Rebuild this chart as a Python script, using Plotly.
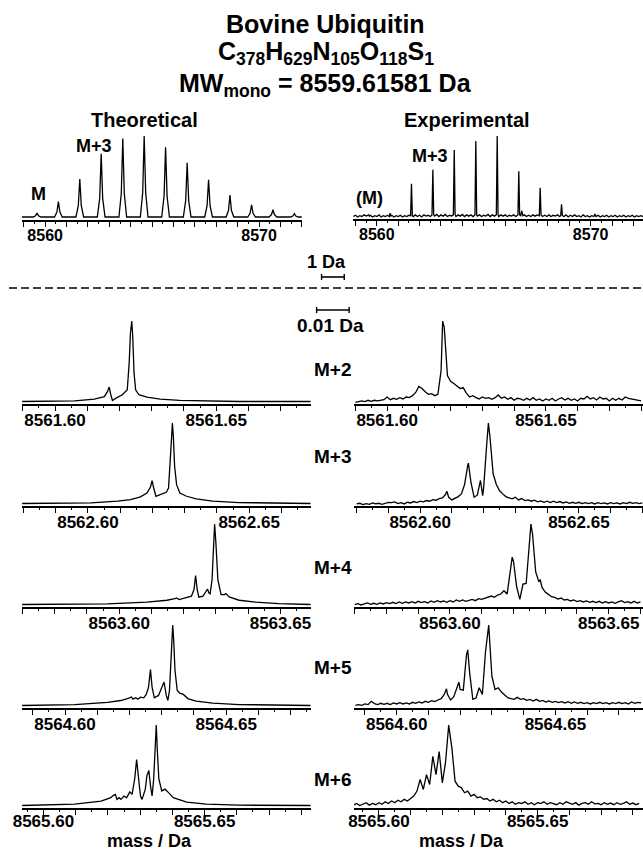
import plotly.graph_objects as go

W, H = 643, 851
FONT = "Liberation Sans, Arial, Helvetica, sans-serif"

# ---------------- data: top (full isotope envelope) ----------------
theo_top_mass = [8558.90,
    8559.44, 8559.55, 8559.62, 8559.69, 8559.80,
    8560.44, 8560.55, 8560.62, 8560.69, 8560.80,
    8561.44, 8561.55, 8561.62, 8561.69, 8561.80,
    8562.44, 8562.55, 8562.62, 8562.69, 8562.80,
    8563.45, 8563.56, 8563.63, 8563.70, 8563.81,
    8564.45, 8564.56, 8564.63, 8564.70, 8564.81,
    8565.45, 8565.56, 8565.63, 8565.70, 8565.81,
    8566.46, 8566.57, 8566.64, 8566.71, 8566.82,
    8567.46, 8567.57, 8567.64, 8567.71, 8567.82,
    8568.46, 8568.57, 8568.64, 8568.71, 8568.82,
    8569.47, 8569.58, 8569.65, 8569.72, 8569.83,
    8570.47, 8570.58, 8570.65, 8570.72, 8570.83,
    8571.47, 8571.58, 8571.65, 8571.72, 8571.83,
    8572.00]
theo_top_int = [0,
    0, 1.5, 5, 1.5, 0,
    0, 6, 19, 6, 0,
    0, 14, 47, 14, 0,
    0, 23, 78, 23, 0,
    0, 29, 97, 29, 0,
    0, 30, 100, 30, 0,
    0, 26, 86, 26, 0,
    0, 20, 67, 20, 0,
    0, 14, 46, 14, 0,
    0, 8, 27, 8, 0,
    0, 4.5, 15, 4.5, 0,
    0, 3, 9, 3, 0,
    0, 1.2, 4, 1.2, 0,
    0]

exp_top_mass = [
    8558.9, 8559.0, 8559.1, 8559.2, 8559.3, 8559.4, 8559.5, 8559.58, 8559.62, 8559.66, 8559.7, 8559.8,
    8559.9, 8560.0, 8560.1, 8560.2, 8560.3, 8560.4, 8560.5, 8560.58, 8560.62, 8560.66, 8560.7, 8560.8,
    8560.9, 8561.0, 8561.1, 8561.2, 8561.3, 8561.4, 8561.5, 8561.58, 8561.62, 8561.66, 8561.7, 8561.8,
    8561.9, 8562.0, 8562.1, 8562.2, 8562.3, 8562.4, 8562.5, 8562.58, 8562.62, 8562.66, 8562.7, 8562.8,
    8562.9, 8563.0, 8563.1, 8563.2, 8563.3, 8563.4, 8563.5, 8563.58, 8563.62, 8563.66, 8563.7, 8563.8,
    8563.9, 8564.0, 8564.1, 8564.2, 8564.3, 8564.4, 8564.5, 8564.59, 8564.63, 8564.67, 8564.7, 8564.8,
    8564.9, 8565.0, 8565.1, 8565.2, 8565.3, 8565.4, 8565.5, 8565.59, 8565.63, 8565.67, 8565.7, 8565.8,
    8565.9, 8566.0, 8566.1, 8566.2, 8566.3, 8566.4, 8566.5, 8566.6, 8566.64, 8566.68, 8566.73, 8566.78, 8566.83,
    8566.9, 8567.0, 8567.1, 8567.2, 8567.3, 8567.4, 8567.5, 8567.6, 8567.64, 8567.68, 8567.75, 8567.85,
    8567.95, 8568.05, 8568.15, 8568.25, 8568.35, 8568.45, 8568.55, 8568.6, 8568.64, 8568.68, 8568.75, 8568.85,
    8568.95, 8569.05, 8569.15, 8569.25, 8569.35, 8569.45, 8569.55, 8569.65, 8569.75, 8569.85,
    8569.95, 8570.05, 8570.15, 8570.2, 8570.25, 8570.35, 8570.45, 8570.55, 8570.65, 8570.75, 8570.85,
    8570.95, 8571.05, 8571.15, 8571.25, 8571.35, 8571.45, 8571.55, 8571.65, 8571.75, 8571.85,
    8571.95, 8572.05, 8572.15, 8572.25, 8572.35, 8572.45]
exp_top_int = [
    2, 3.5, 1.5, 3, 2, 4, 2.5, 3, 4, 2.5, 3.5, 1.5,
    3, 2, 4, 1.5, 3, 2, 3.5, 2, 6, 2.5, 3.5, 1.5,
    3, 2, 3.5, 1.5, 3, 2, 3.5, 3, 42, 3, 2, 4,
    2, 3.5, 1.5, 4, 2.5, 3.5, 2, 4, 59, 4, 2.5, 4.5,
    2, 4, 2.5, 4.5, 2, 3.5, 2.5, 4, 83, 4.5, 2, 4,
    2.5, 4.5, 2, 4, 2.5, 4, 2, 4, 94, 4, 2.5, 4,
    2, 3.5, 2.5, 4.5, 2, 4, 2.5, 4, 100, 5, 2, 4,
    2.5, 4, 2, 3.5, 2.5, 4, 2, 4, 57, 4, 3, 9, 3,
    4, 2, 3.5, 2, 4, 2.5, 4, 3, 37, 4, 2, 3.5,
    2, 4, 2, 3.5, 2.5, 4, 2, 3, 17, 3, 2, 4,
    1.5, 3.5, 2, 4, 2, 3, 1.5, 4, 2, 3,
    1.5, 3, 2, 5, 2, 3.5, 1.5, 3, 2, 3.5, 1.5,
    3, 2, 3.5, 1.5, 3, 2, 3.5, 1.5, 3, 2,
    3.5, 1.5, 3, 2, 3, 2]

top_tickvals = [8559, 8560, 8561, 8562, 8563, 8564, 8565, 8566, 8567, 8568, 8569, 8570, 8571, 8572]
top_ticktext = ["", "8560", "", "", "", "", "", "", "", "", "", "8570", "", ""]

# ---------------- data: theoretical fine structure ----------------
theo_m2_mass = [8561.5898, 8561.6061, 8561.6122, 8561.6153, 8561.6163, 8561.6168, 8561.6173, 8561.6178,
    8561.6189, 8561.6209, 8561.6224, 8561.6230, 8561.6234, 8561.6238, 8561.6241, 8561.6245, 8561.6250,
    8561.6260, 8561.6285, 8561.6326, 8561.6387, 8561.6469, 8561.6571, 8561.6793]
theo_m2_int = [0, 0.9, 3, 6, 12.5, 18, 8.4, 1.3, 4.2, 8.4, 14.6, 48, 85.5, 100, 81, 35.5, 14.6, 8.4,
    5.4, 3, 1.3, 0.4, 0, 0]

theo_m3_mass = [8562.5796, 8562.6010, 8562.6092, 8562.6132, 8562.6163, 8562.6183, 8562.6194, 8562.6199,
    8562.6204, 8562.6211, 8562.6224, 8562.6243, 8562.6250, 8562.6255, 8562.6259, 8562.6262, 8562.6265,
    8562.6269, 8562.6275, 8562.6285, 8562.6306, 8562.6336, 8562.6387, 8562.6469, 8562.6571, 8562.6691]
theo_m3_int = [0, 0.8, 2.9, 4.9, 8.2, 13.1, 20.5, 28.3, 19.3, 9, 11.1, 13.9, 19.3, 45.9, 78.7, 100,
    82.8, 45.9, 23.4, 13.1, 9, 5.7, 2.9, 1.2, 0.4, 0]

theo_m4_mass = [8563.5699, 8563.5964, 8563.6086, 8563.6148, 8563.6173, 8563.6178, 8563.6186, 8563.6209,
    8563.6224, 8563.6232, 8563.6237, 8563.6242, 8563.6247, 8563.6260, 8563.6270, 8563.6274, 8563.6278,
    8563.6282, 8563.6288, 8563.6292, 8563.6296, 8563.6300, 8563.6306, 8563.6316, 8563.6326, 8563.6331,
    8563.6341, 8563.6372, 8563.6423, 8563.6494, 8563.6594]
theo_m4_int = [0, 0.8, 2.9, 5.3, 7.4, 8.2, 6.2, 8.2, 10.3, 18.5, 35.8, 18.5, 9.1, 10.3, 16.5, 19.3,
    14.4, 13.2, 30.9, 67.9, 100, 76.1, 30.9, 12.3, 12.3, 13.6, 9.5, 5.3, 2.9, 1.2, 0]

theo_m5_mass = [8564.5867, 8564.6030, 8564.6132, 8564.6173, 8564.6198, 8564.6206, 8564.6211, 8564.6219,
    8564.6226, 8564.6234, 8564.6244, 8564.6252, 8564.6259, 8564.6265, 8564.6270, 8564.6277, 8564.6290,
    8564.6301, 8564.6307, 8564.6314, 8564.6319, 8564.6324, 8564.6328, 8564.6332, 8564.6334, 8564.6337,
    8564.6341, 8564.6348, 8564.6356, 8564.6367, 8564.6382, 8564.6407, 8564.6458, 8564.6540, 8564.6762]
theo_m5_int = [0, 1.2, 3.8, 6.2, 9.2, 10.4, 7.9, 9.6, 7.9, 10.4, 9.6, 13.8, 22.9, 44.6, 22.9, 9.6,
    12.5, 22.9, 29.2, 12.5, 6.2, 18.8, 56.2, 85.4, 100, 81.2, 43.8, 18.8, 15.4, 13.8, 8.3, 5.4, 2.9,
    1.2, 0]

theo_m6_mass = [8565.5934, 8565.6097, 8565.6179, 8565.6209, 8565.6217, 8565.6223, 8565.6228, 8565.6235,
    8565.6240, 8565.6250, 8565.6258, 8565.6268, 8565.6275, 8565.6283, 8565.6289, 8565.6295, 8565.6301,
    8565.6306, 8565.6316, 8565.6321, 8565.6327, 8565.6332, 8565.6337, 8565.6342, 8565.6347, 8565.6350,
    8565.6353, 8565.6358, 8565.6367, 8565.6377, 8565.6388, 8565.6403, 8565.6444, 8565.6505, 8565.6607,
    8565.6829]
theo_m6_int = [0, 1.7, 5.5, 9.7, 12.7, 13.9, 7.6, 9.7, 7.6, 11.8, 9.7, 16.9, 13.9, 32.9, 57, 32.9,
    11.8, 7.6, 20.3, 37.1, 43.5, 24.5, 11.8, 32.9, 70.9, 100, 70.9, 32.9, 18.1, 20.3, 16, 9.7, 4.2,
    1.7, 0.4, 0]

# ---------------- data: experimental fine structure ----------------
exp_m2_mass = [8561.590, 8561.591, 8561.592, 8561.593, 8561.594, 8561.595, 8561.596, 8561.597, 8561.598, 8561.599,
    8561.600, 8561.601, 8561.602, 8561.603, 8561.604, 8561.605, 8561.606, 8561.607, 8561.608, 8561.609,
    8561.610, 8561.611, 8561.612, 8561.613, 8561.614, 8561.615, 8561.616, 8561.617, 8561.6175, 8561.618, 8561.619,
    8561.620, 8561.621, 8561.622, 8561.623, 8561.624, 8561.625, 8561.626, 8561.627, 8561.628, 8561.629,
    8561.630, 8561.631, 8561.632, 8561.633, 8561.634, 8561.635, 8561.636, 8561.637, 8561.638, 8561.639,
    8561.640, 8561.641, 8561.642, 8561.643, 8561.644, 8561.645, 8561.646, 8561.647, 8561.648, 8561.649,
    8561.650, 8561.651, 8561.652, 8561.653, 8561.654, 8561.655, 8561.656, 8561.657, 8561.658, 8561.659,
    8561.660, 8561.661, 8561.662, 8561.663, 8561.664, 8561.665, 8561.666, 8561.667, 8561.668, 8561.669,
    8561.670, 8561.671, 8561.672, 8561.673, 8561.674, 8561.675, 8561.676, 8561.677, 8561.678, 8561.679,
    8561.680]
exp_m2_int = [1.6, 2.4, 3.2, 2.4, 4.0, 2.8, 4.0, 3.2, 4.0, 4.8,
    8.0, 4.8, 6.4, 5.2, 7.2, 5.6, 8.0, 7.2, 9.6, 13.5,
    20.7, 18.3, 14.3, 11.2, 12.0, 9.6, 11.2, 40, 100, 92, 34,
    27, 24.3, 21.5, 18.3, 19.1, 12.4, 8.0, 9.6, 7.2, 5.6,
    8.0, 6.4, 7.2, 5.2, 7.2, 10.4, 6.4, 8.0, 5.2, 7.2,
    4.0, 6.4, 5.6, 4.0, 6.4, 4.4, 7.2, 4.0, 5.6, 3.2,
    5.6, 4.0, 6.4, 3.2, 5.6, 7.2, 4.4, 6.4, 4.0, 5.6,
    3.2, 6.4, 5.6, 8.8, 5.6, 7.2, 4.4, 8.0, 5.6, 6.4,
    3.2, 6.4, 4.0, 6.4, 4.4, 8.0, 6.4, 5.6, 4.8, 4.8,
    3.2]

exp_m3_mass = [8562.580, 8562.581, 8562.582, 8562.583, 8562.584, 8562.585, 8562.586, 8562.587, 8562.588, 8562.589,
    8562.590, 8562.591, 8562.592, 8562.593, 8562.594, 8562.595, 8562.596, 8562.597, 8562.598, 8562.599,
    8562.600, 8562.601, 8562.602, 8562.603, 8562.604, 8562.605, 8562.606, 8562.607, 8562.608, 8562.6084,
    8562.609, 8562.610, 8562.611, 8562.612, 8562.613, 8562.614, 8562.615, 8562.6152,
    8562.616, 8562.617, 8562.618, 8562.619, 8562.6197, 8562.620, 8562.621, 8562.6215,
    8562.622, 8562.623, 8562.624, 8562.625, 8562.626, 8562.627, 8562.628, 8562.629,
    8562.630, 8562.631, 8562.632, 8562.633, 8562.634, 8562.635, 8562.636, 8562.637, 8562.638, 8562.639,
    8562.640, 8562.641, 8562.642, 8562.643, 8562.644, 8562.645, 8562.646, 8562.647, 8562.648, 8562.649,
    8562.650, 8562.651, 8562.652, 8562.653, 8562.654, 8562.655, 8562.656, 8562.657, 8562.658, 8562.659,
    8562.660, 8562.661, 8562.662, 8562.663, 8562.664, 8562.665, 8562.666, 8562.667, 8562.668, 8562.669,
    8562.670]
exp_m3_int = [2.0, 2.8, 1.2, 2.4, 1.6, 3.2, 2.0, 2.8, 1.6, 2.4,
    4.0, 3.6, 4.5, 2.4, 3.6, 2.0, 4.0, 3.2, 4.9, 3.6,
    5.3, 4.5, 6.1, 5.3, 7.3, 6.5, 8.5, 9.3, 13.4, 17.4,
    10.1, 6.9, 8.5, 10.9, 14.2, 25.5, 48.6, 51.4,
    28.3, 10.1, 12.6, 30.4, 12.1, 21.5, 75.7, 100,
    83, 38.5, 25.5, 18.2, 14.2, 10.9, 9.3, 8.1,
    10.1, 6.9, 8.5, 6.1, 6.9, 5.3, 6.5, 4.5, 5.7, 4.0,
    5.3, 3.6, 5.3, 3.6, 4.9, 3.2, 4.5, 2.8, 4.0, 2.8,
    4.0, 2.4, 3.6, 2.4, 3.6, 2.0, 3.6, 2.4, 3.2, 2.0,
    3.6, 2.4, 3.2, 2.0, 3.6, 2.4, 4.0, 2.8, 3.6, 2.4,
    3.2]

exp_m4_mass = [8563.570, 8563.571, 8563.572, 8563.573, 8563.574, 8563.575, 8563.576, 8563.577, 8563.578, 8563.579,
    8563.580, 8563.581, 8563.582, 8563.583, 8563.584, 8563.585, 8563.586, 8563.587, 8563.588, 8563.589,
    8563.590, 8563.591, 8563.592, 8563.593, 8563.594, 8563.595, 8563.596, 8563.597, 8563.598, 8563.599,
    8563.600, 8563.601, 8563.602, 8563.603, 8563.604, 8563.605, 8563.606, 8563.607, 8563.608, 8563.609,
    8563.610, 8563.611, 8563.612, 8563.613, 8563.614, 8563.615, 8563.616, 8563.617, 8563.618, 8563.619,
    8563.6196, 8563.620, 8563.621, 8563.622, 8563.623, 8563.624, 8563.625, 8563.6255,
    8563.626, 8563.627, 8563.628, 8563.6284, 8563.629,
    8563.630, 8563.631, 8563.632, 8563.633, 8563.634, 8563.635, 8563.636, 8563.637, 8563.638, 8563.639,
    8563.640, 8563.641, 8563.642, 8563.643, 8563.644, 8563.645, 8563.646, 8563.647, 8563.648, 8563.649,
    8563.650, 8563.651, 8563.652, 8563.653, 8563.654, 8563.655, 8563.656, 8563.657, 8563.658, 8563.659,
    8563.660]
exp_m4_int = [2.4, 3.6, 2.0, 3.2, 4.4, 2.8, 4.0, 2.8, 4.4, 3.2,
    4.8, 3.6, 5.2, 3.6, 5.6, 4.0, 5.6, 4.4, 6.0, 4.4,
    6.4, 4.8, 6.0, 4.4, 6.8, 5.2, 7.2, 5.6, 6.8, 5.2,
    7.2, 5.6, 8.0, 6.4, 8.0, 6.4, 7.6, 8.8, 7.2, 9.6,
    8.8, 10.4, 12.0, 12.8, 11.2, 14.0, 15.2, 19.2, 15.2, 46,
    60, 55.2, 24, 8.8, 27.2, 28, 76, 100,
    88, 42, 30, 32.8, 23.2,
    17.6, 14.8, 12.0, 11.2, 9.2, 10.4, 8.0, 8.8, 6.8, 8.0,
    6.0, 7.2, 5.6, 6.8, 5.2, 6.4, 4.8, 6.4, 4.4, 6.0,
    4.4, 5.6, 4.0, 5.6, 7.2, 4.8, 6.0, 4.4, 6.4, 4.4,
    5.6]

exp_m5_mass = [8564.587, 8564.588, 8564.589, 8564.590, 8564.591, 8564.592, 8564.593, 8564.594, 8564.595, 8564.596,
    8564.597, 8564.598, 8564.599, 8564.600, 8564.601, 8564.602, 8564.603, 8564.604, 8564.605, 8564.606,
    8564.607, 8564.608, 8564.609, 8564.610, 8564.611, 8564.612, 8564.613, 8564.614, 8564.615, 8564.6157,
    8564.616, 8564.617, 8564.618, 8564.619, 8564.6196, 8564.620, 8564.621, 8564.622, 8564.6224,
    8564.623, 8564.624, 8564.625, 8564.626, 8564.627, 8564.628, 8564.629,
    8564.630, 8564.631, 8564.632, 8564.633, 8564.634, 8564.635, 8564.636, 8564.637, 8564.638, 8564.639,
    8564.640, 8564.641, 8564.642, 8564.643, 8564.644, 8564.645, 8564.646, 8564.647, 8564.648, 8564.649,
    8564.650, 8564.651, 8564.652, 8564.653, 8564.654, 8564.655, 8564.656, 8564.657, 8564.658, 8564.659,
    8564.660, 8564.661, 8564.662, 8564.663, 8564.664, 8564.665, 8564.666, 8564.667, 8564.668, 8564.669,
    8564.670, 8564.671, 8564.672, 8564.673, 8564.674, 8564.675, 8564.676, 8564.677]
exp_m5_int = [2.8, 3.6, 2.8, 4.4, 3.6, 7.6, 4.8, 3.6, 5.2, 4.0,
    5.2, 3.6, 5.6, 4.4, 6.0, 4.4, 5.6, 4.4, 6.4, 5.2,
    6.8, 5.6, 7.6, 6.4, 8.4, 7.2, 9.2, 10.8, 16, 22.8,
    16, 9.2, 13.2, 24, 30.8, 22, 21.2, 64, 70,
    42, 10, 11.6, 24, 16, 68, 100,
    38, 22, 24, 18.8, 14.8, 12.0, 10.8, 10.0, 12.4, 10.0,
    10.8, 8.8, 10.0, 8.0, 10.0, 7.6, 8.8, 6.8, 8.0, 6.4,
    7.6, 6.0, 7.2, 5.6, 7.2, 5.2, 6.8, 5.2, 6.4, 4.8,
    6.0, 4.4, 6.0, 4.8, 6.4, 4.8, 6.0, 4.4, 6.0, 4.8,
    6.4, 4.8, 6.0, 4.4, 6.8, 5.2, 6.4, 5.6]

exp_m6_mass = [8565.592, 8565.593, 8565.594, 8565.595, 8565.596, 8565.597, 8565.598, 8565.599, 8565.600, 8565.601,
    8565.602, 8565.603, 8565.604, 8565.605, 8565.606, 8565.607, 8565.608, 8565.609, 8565.610, 8565.611,
    8565.612, 8565.613, 8565.614, 8565.615, 8565.616, 8565.617, 8565.618, 8565.619, 8565.620, 8565.621,
    8565.622, 8565.623, 8565.624, 8565.625, 8565.626, 8565.627, 8565.628, 8565.629, 8565.630, 8565.631,
    8565.632, 8565.633, 8565.634, 8565.635, 8565.636, 8565.637, 8565.638, 8565.639, 8565.640, 8565.641,
    8565.642, 8565.643, 8565.644, 8565.645, 8565.646, 8565.647, 8565.648, 8565.649, 8565.650, 8565.651,
    8565.652, 8565.653, 8565.654, 8565.655, 8565.656, 8565.657, 8565.658, 8565.659, 8565.660, 8565.661,
    8565.662, 8565.663, 8565.664, 8565.665, 8565.666, 8565.667, 8565.668, 8565.669, 8565.670, 8565.671,
    8565.672, 8565.673, 8565.674, 8565.675, 8565.676, 8565.677, 8565.678, 8565.679, 8565.680, 8565.681,
    8565.682]
exp_m6_int = [3, 5, 2.5, 4, 6, 3, 5, 3.5, 6, 4,
    7, 5, 8, 6, 9, 7, 10, 8, 11, 14,
    20, 34, 22, 40, 28, 62, 40, 68, 30, 55,
    100, 72, 32, 26, 24, 18, 20, 14, 16, 12,
    13, 10, 11, 8, 10, 7, 9, 6, 8, 5,
    7, 4, 6, 5, 7, 4, 6, 3.5, 6, 5,
    7, 4, 6, 5, 3.5, 6, 4, 7, 5, 4,
    6, 3, 5, 6, 4, 7, 4.5, 5, 3.5, 6,
    4, 5.5, 3.5, 6, 4, 5, 7, 4, 5.5, 3.5,
    5]

# tick positions / labels for the fine-structure rows
row_tickvals = [
    [8561.59, 8561.60, 8561.61, 8561.62, 8561.63, 8561.64, 8561.65, 8561.66, 8561.67, 8561.68],
    [8562.58, 8562.59, 8562.60, 8562.61, 8562.62, 8562.63, 8562.64, 8562.65, 8562.66, 8562.67],
    [8563.57, 8563.58, 8563.59, 8563.60, 8563.61, 8563.62, 8563.63, 8563.64, 8563.65, 8563.66],
    [8564.59, 8564.60, 8564.61, 8564.62, 8564.63, 8564.64, 8564.65, 8564.66, 8564.67, 8564.68],
    [8565.60, 8565.61, 8565.62, 8565.63, 8565.64, 8565.65, 8565.66, 8565.67, 8565.68, 8565.69],
]
row_ticktext = [
    ["", "8561.60", "", "", "", "", "8561.65", "", "", ""],
    ["", "", "8562.60", "", "", "", "", "8562.65", "", ""],
    ["", "", "", "8563.60", "", "", "", "", "8563.65", ""],
    ["", "8564.60", "", "", "", "", "8564.65", "", "", ""],
    ["8565.60", "", "", "", "", "8565.65", "", "", "", ""],
]
row_labels = ["M+2", "M+3", "M+4", "M+5", "M+6"]

theo_rows = [(theo_m2_mass, theo_m2_int), (theo_m3_mass, theo_m3_int), (theo_m4_mass, theo_m4_int),
             (theo_m5_mass, theo_m5_int), (theo_m6_mass, theo_m6_int)]
exp_rows = [(exp_m2_mass, exp_m2_int), (exp_m3_mass, exp_m3_int), (exp_m4_mass, exp_m4_int),
            (exp_m5_mass, exp_m5_int), (exp_m6_mass, exp_m6_int)]
for m, i in theo_rows + exp_rows + [(theo_top_mass, theo_top_int), (exp_top_mass, exp_top_int)]:
    assert len(m) == len(i), (len(m), len(i))

# ---------------- layout geometry (pixels) ----------------
left_lo = [8561.5897, 8562.5795, 8563.5698, 8564.5866, 8565.5933]
right_lo = [8561.5896, 8562.5792, 8563.5698, 8564.5866, 8565.5922]
row_axis_px = [404, 506, 607, 708, 808]
row_standoff = [-5, -5, -5, -5, -8]
PANEL_H = 92

fig = go.Figure()


def add_panel(n, mass, inten, x0, x1, axis_px, xrange, yrange, tickvals, ticktext,
              minor_dtick, minor_tick0, tsize, lw, standoff=-5):
    xr = "x" if n == 1 else f"x{n}"
    yr = "y" if n == 1 else f"y{n}"
    fig.add_trace(go.Scatter(x=mass, y=inten, mode="lines",
                             line=dict(color="black", width=lw, shape="linear"),
                             xaxis=xr, yaxis=yr, hoverinfo="skip", showlegend=False))
    xkey = "xaxis" if n == 1 else f"xaxis{n}"
    ykey = "yaxis" if n == 1 else f"yaxis{n}"
    fig.update_layout(**{
        xkey: dict(domain=[x0 / W, x1 / W], range=xrange, anchor=yr,
                   showline=True, linecolor="black", linewidth=1.8,
                   ticks="outside", ticklen=5, tickwidth=1.4, tickcolor="black",
                   tickmode="array", tickvals=tickvals, ticktext=ticktext,
                   tickfont=dict(family=FONT, size=tsize, color="black", weight="bold"),
                   ticklabelstandoff=standoff,
                   showgrid=False, zeroline=False, fixedrange=True,
                   minor=dict(ticks="outside", ticklen=2.5, tickwidth=1, tickcolor="black",
                              dtick=minor_dtick, tick0=minor_tick0, showgrid=False)),
        ykey: dict(domain=[1 - axis_px / H, 1 - (axis_px - PANEL_H) / H], range=yrange,
                   anchor=xr, visible=False, fixedrange=True),
    })


# top panels
add_panel(1, theo_top_mass, theo_top_int, 13, 297, 220, [8558.91, 8572.0], [-3.7, 109.9],
          top_tickvals, top_ticktext, 0.5, 8559, 16, 1.3)
add_panel(2, exp_top_mass, exp_top_int, 349, 643, 219, [8558.89, 8572.45], [-1, 111],
          top_tickvals, top_ticktext, 0.5, 8559, 16, 1.3)

# fine-structure rows
n = 3
for r in range(5):
    tm, ti = theo_rows[r]
    add_panel(n, tm, ti, 13, 306, row_axis_px[r], [left_lo[r], left_lo[r] + 0.0896], [-3.1, 111.2],
              row_tickvals[r], row_ticktext[r], 0.005, row_tickvals[r][0], 17, 1.3, row_standoff[r])
    n += 1
    em, ei = exp_rows[r]
    add_panel(n, em, ei, 350, 643, row_axis_px[r], [right_lo[r], right_lo[r] + 0.0910], [-0.5, 111],
              row_tickvals[r], row_ticktext[r], 0.005, row_tickvals[r][0], 17, 1.3, row_standoff[r])
    n += 1


def ann(text, xp, yp, size, xanchor="center"):
    fig.add_annotation(text=f"<b>{text}</b>", x=xp / W, y=1 - yp / H, xref="paper", yref="paper",
                       showarrow=False, xanchor=xanchor, yanchor="middle",
                       font=dict(family=FONT, size=size, color="black"))


ann("Bovine Ubiquitin", 321, 24, 25)
ann("C<sub>378</sub>H<sub>629</sub>N<sub>105</sub>O<sub>118</sub>S<sub>1</sub>", 321, 53, 25)
ann("MW<sub>mono</sub> = 8559.61581 Da", 321, 85, 25)
ann("Theoretical", 137, 120, 20)
ann("Experimental", 465, 120, 20)
ann("M", 30, 194, 18)
ann("M+3", 86, 146, 18)
ann("(M)", 366, 198, 18)
ann("M+3", 427, 156, 18)
ann("1 Da", 322, 262, 18)
ann("0.01 Da", 326, 325, 19)
for r, lab in enumerate(row_labels):
    ann(lab, 329, [369, 456, 567, 667, 779][r], 19)
ann("mass / Da", 142, 841, 18)
ann("mass / Da", 459, 841, 18)


def hline(x0, x1, y, width=1.6, dash=None):
    fig.add_shape(type="line", xref="paper", yref="paper", x0=x0 / W, x1=x1 / W,
                  y0=1 - y / H, y1=1 - y / H, line=dict(color="black", width=width, dash=dash))


def vline(x, y0, y1, width=1.4):
    fig.add_shape(type="line", xref="paper", yref="paper", x0=x / W, x1=x / W,
                  y0=1 - y0 / H, y1=1 - y1 / H, line=dict(color="black", width=width))


# scale bars and separator
hline(317, 340, 277)
vline(317, 274, 280)
vline(340, 274, 280)
hline(0, 643, 288, width=1.6, dash="8px,4px")
hline(312, 345, 310)
vline(312, 307, 313)
vline(345, 307, 313)

fig.update_layout(width=W, height=H, margin=dict(l=0, r=0, t=0, b=0),
                  paper_bgcolor="white", plot_bgcolor="white", showlegend=False,
                  font=dict(family=FONT, color="black"))

fig.write_html("out.html", config={"displayModeBar": False},
               post_script="document.body.style.margin='0';document.body.style.overflow='hidden';")
